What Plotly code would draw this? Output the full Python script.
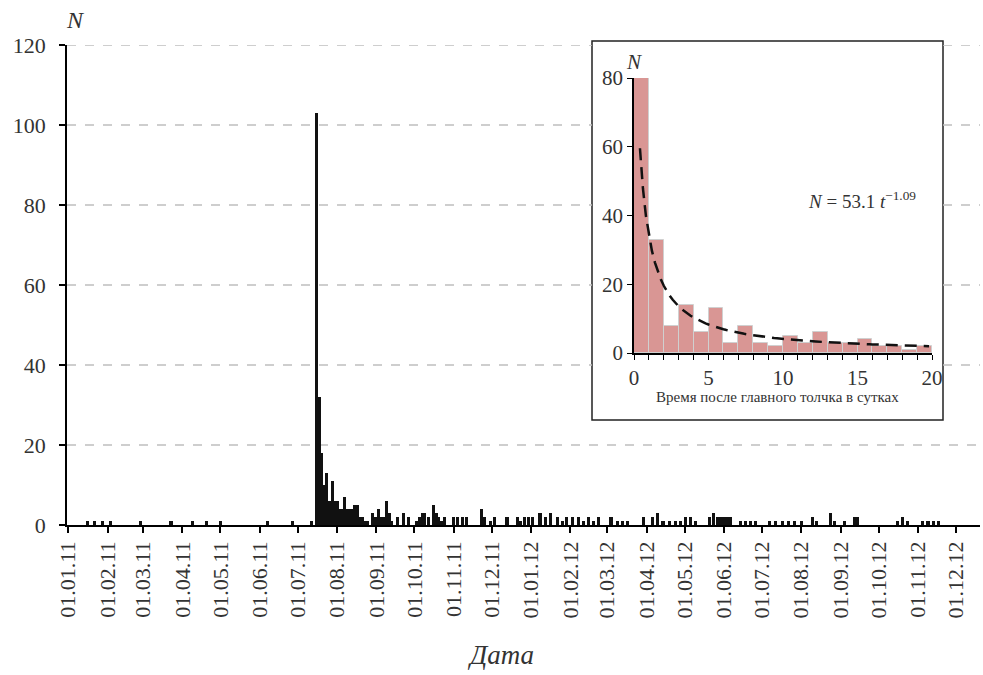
import pandas as pd
import plotly.graph_objects as go

# ---------------- data ----------------
START_DATE = "2011-01-01"
# day offsets (from 01.01.2011) with non-zero daily counts, and counts
event_day = [15, 21, 27, 33, 57, 81, 98, 109, 120, 157, 177, 192,
             196, 198, 200, 202, 204, 206, 208, 210, 212, 214, 216, 218, 220, 222, 224, 226, 228,
             230, 232, 234, 236, 240, 242, 245, 247, 249, 251, 253, 255, 260, 264, 268, 275, 277,
             279, 281, 284, 288, 290, 292, 294, 297, 304, 307, 311, 314, 326, 328, 333, 336, 346,
             354, 357, 360, 363, 366, 372, 376, 380, 386, 390, 393, 398, 402, 406, 410, 414, 418,
             428, 433, 437, 441, 454, 461, 465, 469, 474, 479, 483, 487, 491, 495, 506, 509, 512,
             514, 516, 518, 520, 522, 530, 534, 538, 542, 553, 558, 563, 568, 573, 578, 587, 590,
             601, 604, 612, 620, 622, 654, 658, 662, 674, 678, 682, 686]
event_count = [1, 1, 1, 1, 1, 1, 1, 1, 1, 1, 1, 1,
               103, 32, 18, 10, 13, 6, 11, 6, 6, 4, 4, 7, 4, 4, 4, 5, 5,
               2, 2, 1, 1, 3, 2, 4, 2, 2, 6, 3, 1, 2, 3, 2, 1, 2,
               3, 3, 2, 5, 3, 2, 1, 2, 2, 2, 2, 2, 4, 2, 1, 2, 2,
               2, 1, 2, 2, 2, 3, 2, 3, 2, 1, 2, 2, 2, 1, 2, 1, 2,
               2, 1, 1, 1, 2, 2, 3, 1, 1, 1, 1, 2, 2, 1, 2, 3, 2,
               2, 2, 2, 2, 2, 1, 1, 1, 1, 1, 1, 1, 1, 1, 1, 2, 1,
               3, 1, 1, 2, 2, 1, 2, 1, 1, 1, 1, 1]

# inset histogram: days after main shock (1-day bins) and counts
inset_bin_center = [0.5, 1.5, 2.5, 3.5, 4.5, 5.5, 6.5, 7.5, 8.5, 9.5,
                    10.5, 11.5, 12.5, 13.5, 14.5, 15.5, 16.5, 17.5, 18.5, 19.5]
inset_count = [80, 33, 8, 14, 6, 13, 3, 8, 3, 2, 5, 3, 6, 3, 3, 4, 2, 2, 1, 2]

# fitted law shown in the inset: N = 53.1 t^-1.09
FIT_A = 53.1
FIT_B = -1.09
fit_x = [0.4 + 0.2 * i for i in range(98)]

month_ticks = pd.date_range("2011-01-01", "2012-12-01", freq="MS")
month_labels = [d.strftime("%d.%m.%y") for d in month_ticks]
y_ticks = [0, 20, 40, 60, 80, 100, 120]

# ---------------- figure ----------------
FONT = "Liberation Serif, Times New Roman, serif"
TXT = "#333333"

dates = pd.Timestamp(START_DATE) + pd.to_timedelta(event_day, unit="D")
fit_y = [FIT_A * (x + 0.5) ** FIT_B for x in fit_x]

fig = go.Figure()
fig.add_trace(go.Bar(x=dates, y=event_count, width=2.4 * 86400000,
                     marker=dict(color="#111111", line=dict(width=0)),
                     xaxis="x", yaxis="y", showlegend=False))
fig.add_trace(go.Bar(x=inset_bin_center, y=inset_count, width=1,
                     marker=dict(color="#D99694", line=dict(color="#D0D0D0", width=1)),
                     xaxis="x2", yaxis="y2", showlegend=False))
fig.add_trace(go.Scatter(x=fit_x, y=fit_y, mode="lines",
                         line=dict(color="#111111", width=2.5, dash="12px,7px"),
                         xaxis="x2", yaxis="y2", showlegend=False))

PW = 913.0

def px_x(p):
    return (p - 67) / PW

def px_y(p):
    return (525 - p) / 480.0

fig.update_layout(
    width=983, height=675,
    margin=dict(l=67, r=3, t=45, b=150, autoexpand=False),
    paper_bgcolor="white", plot_bgcolor="rgba(0,0,0,0)",
    font=dict(family=FONT, color=TXT, size=21),
    xaxis=dict(type="date", range=["2010-12-31", "2012-12-20"], domain=[0, 1],
               tickvals=month_ticks, ticktext=month_labels, tickangle=-90,
               ticks="outside", ticklen=6, tickcolor="black", tickwidth=1.5,
               showline=True, linecolor="black", linewidth=1.5, showgrid=False,
               zeroline=False, automargin=False,
               tickfont=dict(family=FONT, size=22, color=TXT)),
    yaxis=dict(range=[0, 120], tickvals=y_ticks, domain=[0, 1],
               ticks="outside", ticklen=6, tickcolor="black", tickwidth=1.5,
               showline=True, linecolor="black", linewidth=1.5,
               showgrid=False, zeroline=False, ticklabelstandoff=9, automargin=False,
               tickfont=dict(family=FONT, size=22, color=TXT)),
    xaxis2=dict(range=[0, 20], domain=[px_x(634), px_x(932)], anchor="y2",
                tickvals=[0, 5, 10, 15, 20], ticks="outside", ticklen=5,
                tickcolor="black", tickwidth=1.2, automargin=False,
                minor=dict(dtick=1, tick0=0, ticks="outside", ticklen=5, tickcolor="black", tickwidth=1),
                showline=True, linecolor="black", linewidth=1.5, showgrid=False, zeroline=False,
                tickfont=dict(family=FONT, size=21, color=TXT)),
    yaxis2=dict(range=[0, 80], dtick=20, domain=[px_y(353), px_y(78)], anchor="x2",
                ticks="outside", ticklen=5, tickcolor="black", tickwidth=1.2, automargin=False,
                showline=True, linecolor="black", linewidth=1.5, showgrid=False, zeroline=False,
                tickfont=dict(family=FONT, size=21, color=TXT)),
    bargap=0,
)

# inset frame and dashed grid lines of the main plot (interrupted by the frame)
FR_L, FR_R = px_x(592), px_x(943)
FR_B, FR_T = px_y(420), px_y(41)
fig.add_shape(type="rect", xref="paper", yref="paper",
              x0=FR_L, x1=FR_R, y0=FR_B, y1=FR_T,
              fillcolor="white", line=dict(color="#222222", width=1.5), layer="below")
for v in y_ticks[1:]:
    yp = v / 120.0
    grid = dict(color="#BEBEBE", width=1.3, dash="dash")
    if FR_B <= yp <= FR_T + 0.02:
        fig.add_shape(type="line", xref="paper", yref="y", x0=0, x1=FR_L, y0=v, y1=v,
                      line=grid, layer="below")
        fig.add_shape(type="line", xref="paper", yref="y", x0=FR_R, x1=1, y0=v, y1=v,
                      line=grid, layer="below")
    else:
        fig.add_shape(type="line", xref="paper", yref="y", x0=0, x1=1, y0=v, y1=v,
                      line=grid, layer="below")

ann = [
    dict(text="<i>N</i>", x=px_x(75), y=px_y(20), size=24),
    dict(text="<i>Дата</i>", x=px_x(500), y=px_y(655), size=27),
    dict(text="<i>N</i>", x=px_x(634), y=px_y(62), size=21),
    dict(text="Время после главного толчка в сутках", x=px_x(777), y=px_y(397), size=15),
    dict(text="<i>N</i> = 53.1 <i>t</i><sup>−1.09</sup>", x=px_x(862), y=px_y(200), size=19),
]
for a in ann:
    fig.add_annotation(text=a["text"], x=a["x"], y=a["y"], xref="paper", yref="paper",
                       xanchor="center", yanchor="middle", showarrow=False,
                       font=dict(family=FONT, size=a["size"], color=TXT))

fig.write_html("out.html")
